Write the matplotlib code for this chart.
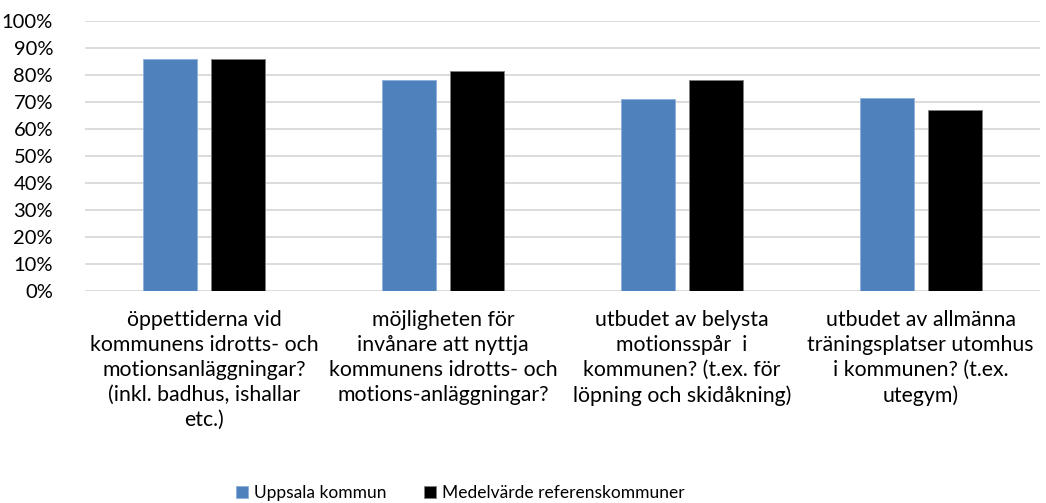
import matplotlib
matplotlib.use('agg')
import matplotlib.pyplot as plt
import numpy as np

# data
kategorier = [
    "öppettiderna vid\nkommunens idrotts- och\nmotionsanläggningar?\n(inkl. badhus, ishallar\netc.)",
    "möjligheten för\ninvånare att nyttja\nkommunens idrotts- och\nmotions-anläggningar?",
    "utbudet av belysta\nmotionsspår  i\nkommunen? (t.ex. för\nlöpning och skidåkning)",
    "utbudet av allmänna\nträningsplatser utomhus\ni kommunen? (t.ex.\nutegym)",
]
uppsala = [0.86, 0.784, 0.711, 0.715]
referens = [0.86, 0.817, 0.782, 0.670]
serier = ["Uppsala kommun", "Medelvärde referenskommuner"]

plt.rcParams['font.family'] = ['Lato', 'DejaVu Sans']

fig = plt.figure(figsize=(10.46, 5.03), dpi=100)
ax = fig.add_axes([85/1046, 212/503, 955/1046, 269.5/503])

x = np.arange(len(kategorier))
w = 0.226
off = 0.142
ax.bar(x - off, uppsala, w, color='#4f81bd', edgecolor='#8eb0dc', linewidth=0.6, label=serier[0], zorder=3)
ax.bar(x + off, referens, w, color='#000000', edgecolor='#7f7f7f', linewidth=0.6, label=serier[1], zorder=3)

ax.set_xlim(-0.5, len(kategorier) - 0.5)
ax.set_ylim(0, 1)
ax.set_yticks(np.arange(0, 1.01, 0.1))
ax.set_yticklabels([f"{int(round(v*100))}%" for v in np.arange(0, 1.01, 0.1)], fontsize=14.5, color='#000000')
ax.yaxis.grid(True, color='#d9d9d9', linewidth=1.3, zorder=0)
ax.set_axisbelow(True)
for s in ax.spines.values():
    s.set_visible(False)
ax.tick_params(axis='both', length=0)
ax.tick_params(axis='y', pad=23)
ax.set_xticks(x)
ax.set_xticklabels(kategorier, fontsize=15.3, linespacing=1.3, va='top')
ax.tick_params(axis='x', pad=14)

fig.legend(loc='lower center', bbox_to_anchor=(0.44, -0.028), ncol=2, frameon=False,
           fontsize=12.5, handlelength=0.7, handleheight=0.7, handletextpad=0.3,
           columnspacing=2.2)

fig.savefig('out.png', dpi=100)
